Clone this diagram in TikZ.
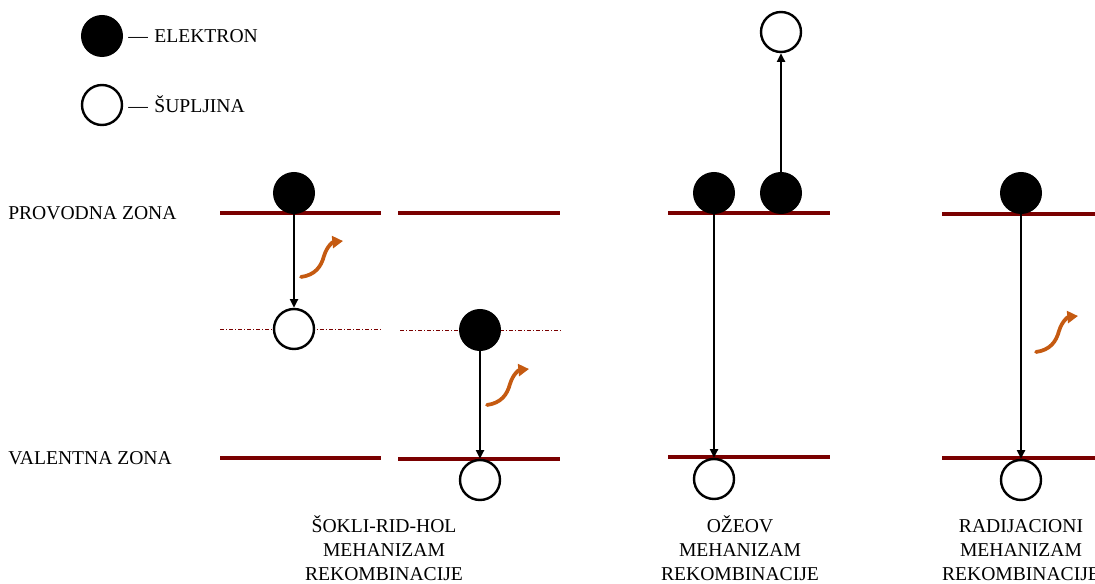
\documentclass[tikz,border=0pt]{standalone}
\usepackage{fontspec}
\setmainfont{Liberation Serif}
\usetikzlibrary{arrows.meta}
\definecolor{band}{RGB}{122,0,0}
\definecolor{photon}{RGB}{197,90,17}
\tikzset{
  bandline/.style={draw=band, line width=2.6pt},
  levelline/.style={draw=band, line width=0.6pt, dash pattern=on 3pt off 1.5pt on 0.8pt off 1.5pt},
  electron/.style={circle, fill=black, draw=black, line width=1.5pt, minimum size=30pt, inner sep=0pt},
  hole/.style={circle, fill=white, draw=black, line width=1.8pt, minimum size=30pt, inner sep=0pt},
  trans/.style={draw=black, line width=1.5pt, -{Triangle[length=6.5pt,width=6pt]}},
  wave/.style={draw=photon, line width=2.8pt, line cap=round, -{Triangle[length=8pt,width=9pt]}},
  lbl/.style={font=\fontsize{14.7}{18}\selectfont, inner sep=0pt},
  mech/.style={font=\fontsize{14.7}{18}\selectfont, inner sep=0pt, anchor=base},
  wavy/.pic={\draw[wave] (0,0) .. controls (14,-2) and (20,-10) .. (23,-21) .. controls (26,-31) and (32,-35) .. (42,-36);}
}
\begin{document}
\begin{tikzpicture}[x=0.75pt,y=-0.75pt]
\useasboundingbox (0,0) rectangle (1095,584);
% legend
\node[electron] (le) at (102,36) {};
\node[hole] (lh) at (102,105) {};
\node[lbl, anchor=base west] (ltxt1) at (128,43) {---\,\,ELEKTRON};
\node[lbl, anchor=base west] (ltxt2) at (128,113) {---\,\,ŠUPLJINA};
% zone labels
\node[lbl, anchor=base west] (pz) at (8,220) {PROVODNA ZONA};
\node[lbl, anchor=base west] (vz) at (8,464) {VALENTNA ZONA};
% bands
\coordinate (b1a) at (220,213); \coordinate (b1b) at (381,213);
\coordinate (b2a) at (398,213); \coordinate (b2b) at (560,213);
\coordinate (b3a) at (668,213); \coordinate (b3b) at (830,213);
\coordinate (b4a) at (942,214); \coordinate (b4b) at (1095,214);
\coordinate (v1a) at (220,458); \coordinate (v1b) at (381,458);
\coordinate (v2a) at (398,459); \coordinate (v2b) at (560,459);
\coordinate (v3a) at (668,457); \coordinate (v3b) at (830,457);
\coordinate (v4a) at (942,458); \coordinate (v4b) at (1095,458);
\coordinate (l1a) at (220,329); \coordinate (l1b) at (382,329);
\coordinate (l2a) at (400,330); \coordinate (l2b) at (563,330);
\foreach \a/\b in {b1a/b1b,b2a/b2b,b3a/b3b,b4a/b4b,v1a/v1b,v2a/v2b,v3a/v3b,v4a/v4b}
  \draw[bandline] (\a) -- (\b);
\draw[levelline] (l1a) -- (l1b);
\draw[levelline] (l2a) -- (l2b);
% section 1
\node[electron] (e1) at (294,193) {};
\node[hole] (h1) at (294,329) {};
\draw[trans] (e1.south) -- (h1.north);
\pic at (301,277) {wavy};
% section 2
\node[electron] (e2) at (480,330) {};
\node[hole] (h2) at (480,480) {};
\draw[trans] (e2.south) -- (h2.north);
\pic at (487,405) {wavy};
% section 3
\node[electron] (e3a) at (714,193) {};
\node[electron] (e3b) at (781,193) {};
\node[hole] (h3t) at (781,32) {};
\node[hole] (h3b) at (714,479) {};
\draw[trans] (e3a.south) -- (h3b.north);
\draw[trans] (e3b.north) -- (h3t.south);
% section 4
\node[electron] (e4) at (1021,193) {};
\node[hole] (h4) at (1021,480) {};
\draw[trans] (e4.south) -- (h4.north);
\pic at (1036,352) {wavy};
% mechanism labels
\node[mech] (m1a) at (384,532) {ŠOKLI-RID-HOL};
\node[mech] (m1b) at (384,556) {MEHANIZAM};
\node[mech] (m1c) at (384,580) {REKOMBINACIJE};
\node[mech] (m2a) at (740,532) {OŽEOV};
\node[mech] (m2b) at (740,556) {MEHANIZAM};
\node[mech] (m2c) at (740,580) {REKOMBINACIJE};
\node[mech] (m3a) at (1021,532) {RADIJACIONI};
\node[mech] (m3b) at (1021,556) {MEHANIZAM};
\node[mech] (m3c) at (1021,580) {REKOMBINACIJE};
\end{tikzpicture}
\end{document}
